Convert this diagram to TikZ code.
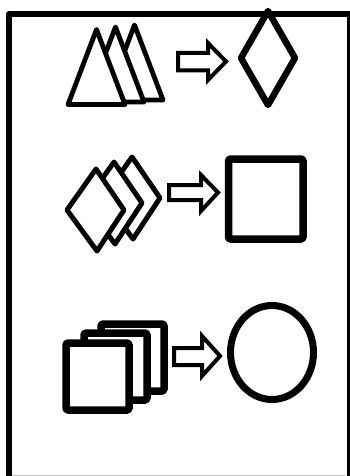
\documentclass[tikz,border=0pt]{standalone}
\begin{document}
\begin{tikzpicture}[x=1pt,y=-1pt,
  shp/.style={draw=black, fill=white, line join=round},
  tri/.style={shp, line width=4.8pt},
  dia/.style={shp, line width=5pt},
  sq/.style={shp, line width=7.5pt, rounded corners=1.5pt},
  harrow/.style={draw=black, fill=white, line width=4pt, line join=miter},
  frame/.style={draw=black, line width=6pt, line join=round}]
\useasboundingbox (0,0) rectangle (349,476);
\fill[white] (0,0) rectangle (349,476);
% frame
\draw[frame] (9,480) -- (9,14) -- (349.5,14) -- (349.5,480);
\draw[gray!45, line width=1pt] (12,475.5) -- (346,475.5);

% row 1: triangles
\foreach \dx/\dy in {38/-4.5, 19/-2.5, 0/0}{
  \draw[tri, shift={(\dx,\dy)}] (96.5,29.5) -- (125,104.5) -- (68,104.5) -- cycle;
}
\draw[harrow] (178,53) -- (208,53) -- (208,43) -- (226,61.5) -- (208,80) -- (208,70.5) -- (178,70.5) -- cycle;
\draw[shp, line width=6.5pt] (268,11) -- (295,58) -- (268,105) -- (241,58) -- cycle;

% row 2: diamonds
\foreach \dx/\dy in {36/-12, 18/-7, 0/0}{
  \draw[dia, shift={(\dx,\dy)}] (96,169) -- (124,210) -- (97,251) -- (67,210) -- cycle;
}
\draw[harrow] (169,185) -- (201,185) -- (201,175) -- (218,192.5) -- (201,211) -- (201,200) -- (169,200) -- cycle;
\draw[sq] (228.5,159) rectangle (303,239);

% row 3: squares
\foreach \dx/\dy in {35/-19, 18/-10, 0/0}{
  \draw[sq, shift={(\dx,\dy)}] (66,343) rectangle (129,410);
}
\draw[harrow] (174,348) -- (202,348) -- (202,336) -- (220,356) -- (202,376) -- (202,365) -- (174,365) -- cycle;
\draw[draw=black, line width=7pt] (272,352.5) ellipse [x radius=41.5, y radius=47];
\end{tikzpicture}
\end{document}
